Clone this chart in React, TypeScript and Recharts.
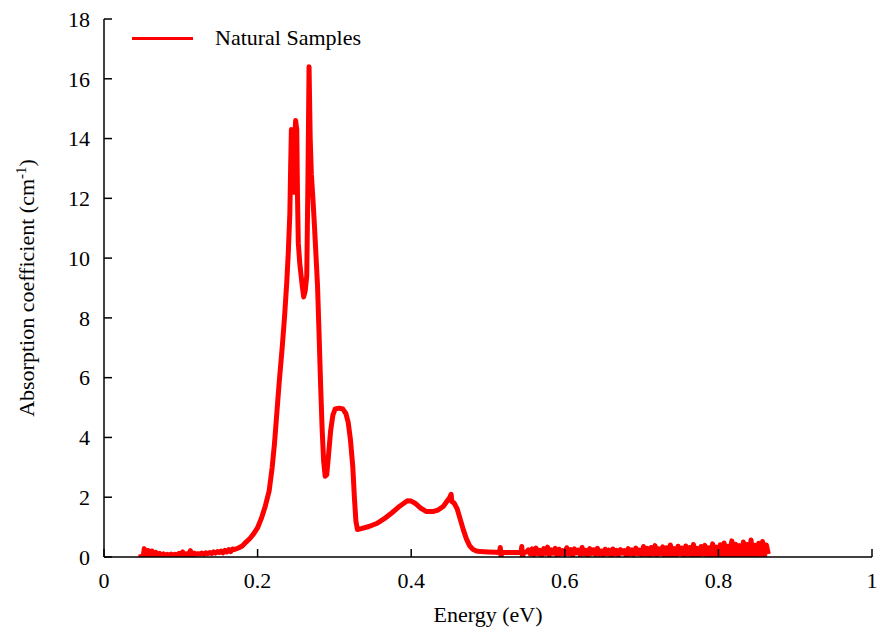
import { LineChart, Line, XAxis, YAxis, Legend, Label } from "recharts";

// Absorption spectrum of the natural samples, absorption coefficient (cm^-1) vs photon energy (eV).
const xTicks = [0, 0.2, 0.4, 0.6, 0.8, 1];
const yTicks = [0, 2, 4, 6, 8, 10, 12, 14, 16, 18];

// noisy low-energy baseline, sampled every 0.0025 eV from 0.0475
const headStart = 0.0475;
const headStep = 0.0025;
const headValues = [
  0.1, -0.15, 0.28, -0.05, 0.22, -0.1, 0.2, 0.0, 0.16, -0.08,
  0.12, 0.02, 0.1, 0.04, 0.09, 0.05, 0.1, 0.06, 0.09, 0.07,
  0.12, 0.04, 0.17, 0.03, 0.11, 0.08, 0.21, -0.02, 0.13, 0.09,
  0.11, 0.1, 0.13, 0.09, 0.14, 0.11, 0.15, 0.12, 0.17, 0.13,
  0.18, 0.15, 0.2, 0.14, 0.22, 0.17, 0.25, 0.18, 0.27,
];

// main absorption band, [energy, absorption]
const bandPoints: [number, number][] = [
  [0.17, 0.25], [0.175, 0.3], [0.18, 0.37], [0.185, 0.5], [0.19, 0.62], [0.195, 0.78],
  [0.2, 0.98], [0.205, 1.3], [0.21, 1.7], [0.215, 2.2], [0.219, 3.0], [0.222, 3.8],
  [0.225, 4.8], [0.228, 5.8], [0.232, 7.0], [0.235, 8.0], [0.238, 9.2], [0.24, 10.2],
  [0.242, 11.5], [0.243, 13.0], [0.244, 14.3], [0.245, 13.5], [0.2465, 12.2], [0.248, 13.8],
  [0.2495, 14.6], [0.251, 14.3], [0.252, 12.0], [0.253, 10.5], [0.255, 9.8], [0.258, 9.1],
  [0.26, 8.7], [0.262, 8.9], [0.264, 9.4], [0.2655, 12.5], [0.267, 16.4], [0.2685, 14.0],
  [0.27, 12.8], [0.272, 12.0], [0.274, 11.1], [0.276, 10.1], [0.278, 9.1], [0.28, 7.5],
  [0.282, 5.8], [0.284, 4.3], [0.286, 3.2], [0.288, 2.7], [0.29, 2.75], [0.292, 3.3],
  [0.295, 4.2], [0.298, 4.75], [0.301, 4.95], [0.306, 4.98], [0.311, 4.95], [0.315, 4.8],
  [0.318, 4.5], [0.321, 3.9], [0.324, 3.0], [0.326, 2.0], [0.328, 1.2], [0.33, 0.92],
  [0.335, 0.95], [0.345, 1.02], [0.355, 1.12], [0.365, 1.28], [0.375, 1.48], [0.385, 1.7],
  [0.395, 1.88], [0.4, 1.87], [0.405, 1.8], [0.412, 1.64], [0.42, 1.52], [0.428, 1.52],
  [0.435, 1.57], [0.442, 1.7], [0.447, 1.88], [0.45, 1.98], [0.452, 2.1], [0.453, 1.85],
  [0.456, 1.8], [0.46, 1.6], [0.464, 1.25], [0.468, 0.9], [0.472, 0.6], [0.476, 0.38],
  [0.48, 0.26], [0.485, 0.2], [0.49, 0.18], [0.5, 0.17], [0.51, 0.16], [0.515, 0.15],
  [0.516, 0.32], [0.517, 0.02], [0.518, 0.15], [0.53, 0.15], [0.543, 0.15], [0.544, 0.35],
  [0.545, -0.05], [0.546, 0.16], [0.5475, 0.15],
];

// noisy high-energy tail, sampled every 0.0025 eV from 0.55
const tailStart = 0.55;
const tailStep = 0.0025;
const tailValues = [
  0.17, 0.24, 0.1, 0.27, 0.08, 0.3, 0.11, 0.22, 0.06, 0.28,
  0.12, 0.33, 0.07, 0.24, 0.13, 0.29, 0.04, 0.26, 0.1, 0.21,
  0.08, 0.31, 0.11, 0.25, 0.05, 0.27, 0.14, 0.23, 0.07, 0.32,
  0.1, 0.22, 0.03, 0.28, 0.12, 0.24, 0.08, 0.29, 0.09, 0.2,
  0.06, 0.26, 0.11, 0.23, 0.04, 0.27, 0.1, 0.22, 0.07, 0.25,
  0.13, 0.21, 0.05, 0.28, 0.09, 0.24, 0.08, 0.3, 0.11, 0.23,
  0.06, 0.35, 0.09, 0.29, 0.02, 0.32, 0.1, 0.38, 0.05, 0.27,
  0.12, 0.34, 0.0, 0.31, 0.08, 0.4, 0.07, 0.28, 0.03, 0.36,
  0.11, 0.3, 0.01, 0.37, 0.09, 0.32, 0.04, 0.42, 0.06, 0.29,
  -0.01, 0.35, 0.1, 0.39, 0.03, 0.31, 0.07, 0.44, 0.02, 0.33,
  0.0, 0.41, 0.06, 0.47, -0.04, 0.36, 0.08, 0.54, -0.02, 0.43,
  0.04, 0.38, -0.07, 0.5, 0.05, 0.42, -0.01, 0.57, -0.05, 0.39,
  0.07, 0.46, -0.08, 0.52, 0.02, 0.4, 0.1,
];

const data = [
  ...headValues.map((a, i) => ({ e: headStart + i * headStep, a })),
  ...bandPoints.map(([e, a]) => ({ e, a })),
  ...tailValues.map((a, i) => ({ e: tailStart + i * tailStep, a })),
];

const FONT = "'Liberation Serif', 'Times New Roman', serif";
const tickStyle = { fill: "#000", fontSize: 22, fontFamily: FONT };

function YTitle() {
  return (
    <text x={34} y={288} transform="rotate(-90 34 288)" textAnchor="middle" fontSize={22} fontFamily={FONT} fill="#000">
      Absorption coefficient (cm<tspan dy={-8} fontSize={15}>-1</tspan>
      <tspan dy={8}>)</tspan>
    </text>
  );
}

function XTitle() {
  return (
    <text x={488} y={622} textAnchor="middle" fontSize={22} fontFamily={FONT} fill="#000">
      Energy (eV)
    </text>
  );
}

function LegendBox() {
  return (
    <div style={{ display: "flex", alignItems: "center", fontFamily: FONT, fontSize: 22, color: "#000", whiteSpace: "nowrap" }}>
      <span style={{ display: "inline-block", width: 61, height: 3, background: "#ff0000", marginRight: 22 }} />
      <span>Natural Samples</span>
    </div>
  );
}

export default function App() {
  return (
    <div style={{ position: "absolute", left: 0, top: 0, background: "#fff", fontFamily: FONT }}>
      <style>{`.recharts-text, .recharts-cartesian-axis-tick-value { font-family: ${FONT}; font-size: 22px; }`}</style>
      <LineChart width={882} height={630} data={data} margin={{ top: 19, right: 10, left: 0, bottom: 0 }}>
        <XAxis
          dataKey="e"
          type="number"
          domain={[0, 1]}
          ticks={xTicks}
          allowDataOverflow
          height={73}
          tickSize={-8}
          tickMargin={23}
          tick={tickStyle}
          fontSize={22}
          fontFamily={FONT}
          stroke="#000"
          strokeWidth={1.5}
        >
          <Label content={<XTitle />} />
        </XAxis>
        <XAxis
          xAxisId="top"
          orientation="top"
          type="number"
          domain={[0, 1]}
          ticks={xTicks}
          allowDataOverflow
          height={0}
          tickSize={-8}
          tick={false}
          stroke="#000"
          strokeWidth={1.5}
        />
        <YAxis
          type="number"
          domain={[0, 18]}
          ticks={yTicks}
          allowDataOverflow
          width={104}
          tickSize={-8}
          tickMargin={22}
          tick={tickStyle}
          fontSize={22}
          fontFamily={FONT}
          stroke="#000"
          strokeWidth={1.5}
        >
          <Label content={<YTitle />} />
        </YAxis>
        <YAxis
          yAxisId="right"
          orientation="right"
          type="number"
          domain={[0, 18]}
          ticks={yTicks}
          allowDataOverflow
          width={0}
          tickSize={-8}
          tick={false}
          stroke="#000"
          strokeWidth={1.5}
        />
        <Legend
          layout="horizontal"
          verticalAlign="middle"
          align="center"
          content={<LegendBox />}
          wrapperStyle={{ top: 25, left: 132, width: "auto" }}
        />
        <Line
          type="linear"
          dataKey="a"
          stroke="#ff0000"
          strokeWidth={5}
          strokeLinejoin="round"
          dot={false}
          activeDot={false}
          isAnimationActive={false}
        />
      </LineChart>
    </div>
  );
}
